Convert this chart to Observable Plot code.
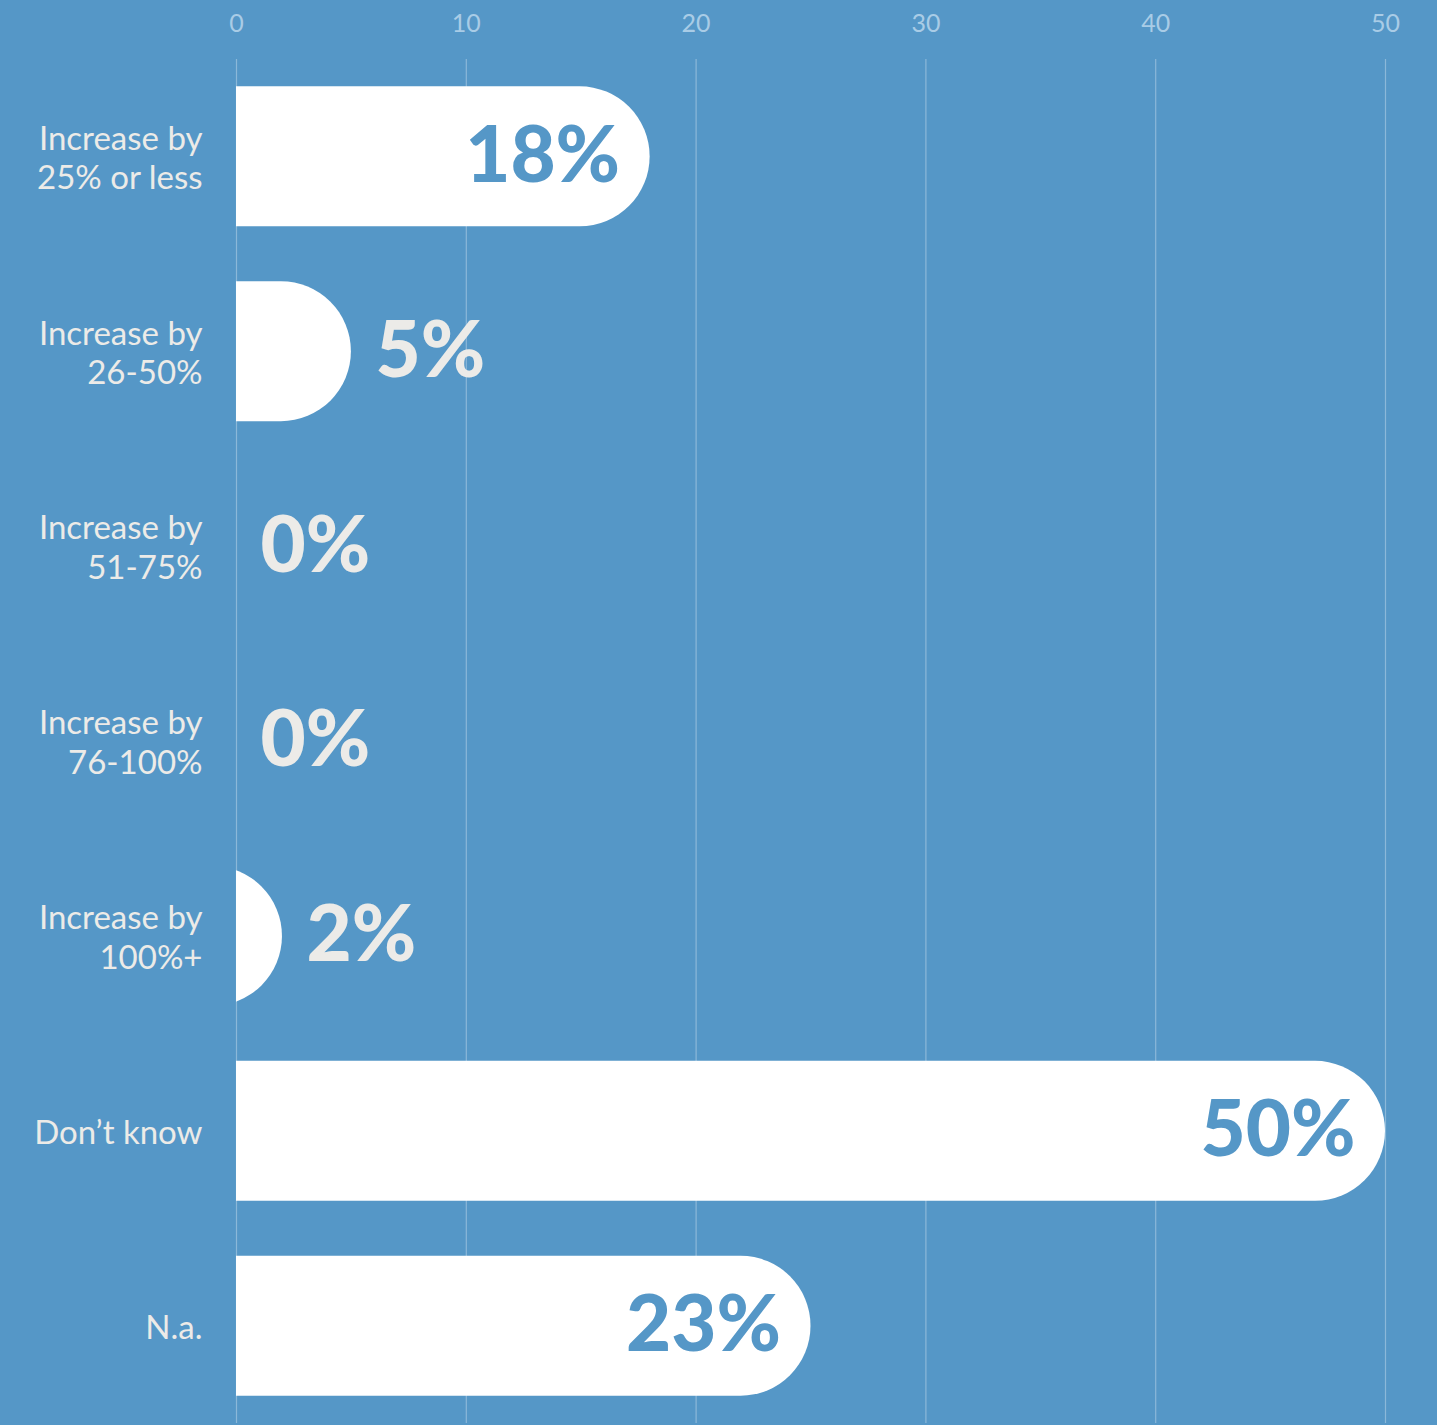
<!DOCTYPE html>
<html>
<head>
<meta charset="utf-8">
<script src="https://cdn.jsdelivr.net/npm/d3@7"></script>
<script src="https://cdn.jsdelivr.net/npm/@observablehq/plot@0.6"></script>
<style>
  html, body { margin: 0; padding: 0; background: #5597c7; }
  #chart svg { display: block; }
</style>
</head>
<body>
<div id="chart"></div>
<script>
const categories = [
  "Increase by\n25% or less",
  "Increase by\n26-50%",
  "Increase by\n51-75%",
  "Increase by\n76-100%",
  "Increase by\n100%+",
  "Don\u2019t know",
  "N.a."
];
// bar lengths as drawn in the picture
const values = [18, 5, 0, 0, 2, 50, 25];
// value labels as printed in the picture
const valueLabels = ["18%", "5%", "0%", "0%", "2%", "50%", "23%"];
const xTicks = [0, 10, 20, 30, 40, 50];

const data = categories.map((label, i) => ({label, value: values[i], text: valueLabels[i]}));

const blue = "#5597c7";
const offWhite = "#ecebe8";
const font = "Lato, 'Open Sans', sans-serif";

const chart = Plot.plot({
  width: 1437,
  height: 1425,
  marginLeft: 236,
  marginRight: 52,
  marginTop: 59,
  marginBottom: 2,
  style: {background: blue, color: "#a9cce6", fontFamily: font, fontSize: "25px"},
  x: {domain: [0, 50], axis: "top", ticks: xTicks, tickSize: 0, tickPadding: 28, label: null},
  y: {domain: categories, paddingInner: 0.282, paddingOuter: 0.14, round: false, axis: null},
  marks: [
    Plot.ruleX(xTicks, {stroke: "white", strokeOpacity: 0.32, strokeWidth: 1.2}),
    Plot.barX(data, {x: "value", y: "label", fill: "white", rx: 70, insetLeft: -150, clip: true}),
    Plot.text(data, {
      x: 0, y: "label", text: "label", textAnchor: "end", dx: -34,
      fill: offWhite, fontSize: 33, lineHeight: 1.2, fontFamily: font
    }),
    Plot.text(data.filter(d => d.value >= 10), {
      x: "value", y: "label", text: "text", textAnchor: "end", dx: -30,
      fill: blue, fontSize: 78, fontWeight: 900, fontFamily: font
    }),
    Plot.text(data.filter(d => d.value < 10), {
      x: "value", y: "label", text: "text", textAnchor: "start", dx: 24,
      fill: offWhite, fontSize: 78, fontWeight: 900, fontFamily: font
    })
  ]
});
document.getElementById("chart").appendChild(chart);
</script>
</body>
</html>
